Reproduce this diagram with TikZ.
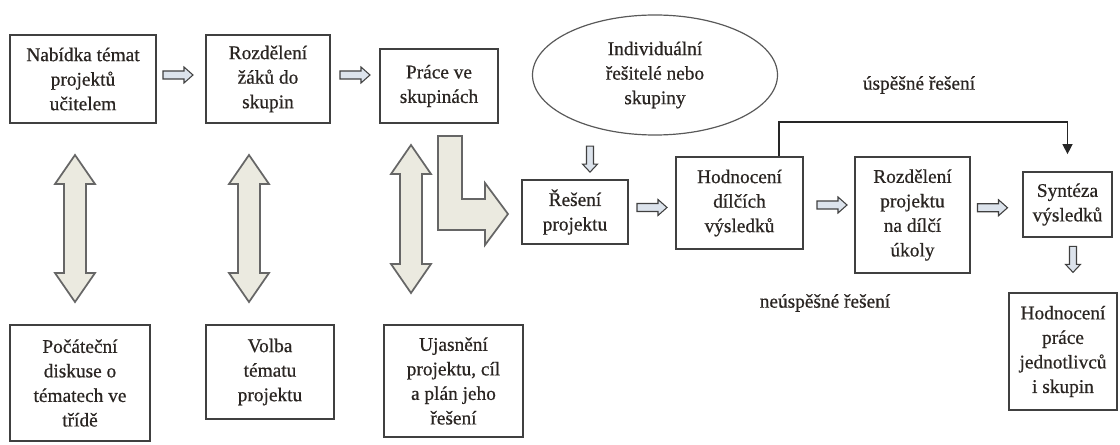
\documentclass[tikz,border=0pt]{standalone}
\usepackage{fontspec}
\setmainfont{Liberation Serif}[FakeBold=0.6]
\usetikzlibrary{calc,arrows.meta,shapes.geometric}
\definecolor{beige}{HTML}{EBEAE0}
\definecolor{arrowblue}{HTML}{DCE3EC}
\definecolor{ink}{HTML}{2A2522}
\tikzset{
  box/.style={draw=black!75, line width=1.3pt, fill=white, inner sep=0pt, align=center, text=ink,
    font=\fontsize{14.5}{18.4}\selectfont},
  oval/.style={ellipse, draw=black!65, line width=0.9pt, inner sep=0pt, align=center, text=ink,
    font=\fontsize{14.5}{18.4}\selectfont},
  lbl/.style={inner sep=0pt, text=ink, font=\fontsize{14.5}{18.4}\selectfont},
  fatarrow/.style={draw=black!60, line width=1.3pt, fill=beige, line join=miter},
  smallarrow/.style={draw=black!75, line width=0.8pt, fill=arrowblue, line join=miter},
  fb/.style={draw=black!85, line width=1pt, -{Triangle[length=7.5pt,width=7.5pt]}}
}
% right-pointing small hollow arrow centred on a named coordinate
\newcommand\rarr[1]{\draw[smallarrow] ($(#1)+(-15,-4)$) -- ++(21,0) -- ++(0,-4) -- ++(9,8) -- ++(-9,8) -- ++(0,-4) -- ++(-21,0) -- cycle;}
% down-pointing small hollow arrow centred on a named coordinate
\newcommand\darr[1]{\draw[smallarrow] ($(#1)+(-3.5,-13)$) -- ++(7,0) -- ++(0,18) -- ++(4,0) -- ++(-7.5,8) -- ++(-7.5,-8) -- ++(4,0) -- cycle;}
% vertical double block arrow between two named coordinates
\newcommand\vdbl[2]{\draw[fatarrow] (#1) -- ($(#1)+(20,29)$) -- ($(#1)+(11,29)$) -- ($(#2)+(11,-29)$) -- ($(#2)+(20,-29)$) -- (#2) -- ($(#2)+(-20,-29)$) -- ($(#2)+(-11,-29)$) -- ($(#1)+(-11,29)$) -- ($(#1)+(-20,29)$) -- cycle;}
\begin{document}
\begin{tikzpicture}[x=0.75pt,y=-0.75pt]
\useasboundingbox (0,0) rectangle (1120,445);

% top row
\node[box, minimum width=109.5pt, minimum height=66pt] (nab) at (83,79) {Nabídka témat\\projektů\\učitelem};
\node[box, minimum width=93pt, minimum height=66pt] (roz) at (268,79) {Rozdělení\\žáků do\\skupin};
\node[box, minimum width=88.5pt, minimum height=55.5pt] (pra) at (439,86) {Práce ve\\skupinách};
\node[oval, minimum width=183.75pt, minimum height=90pt] (ell) at (655,75) {Individuální\\řešitelé nebo\\skupiny};

% middle row
\node[box, minimum width=79.5pt, minimum height=48pt] (res) at (575,212) {Řešení\\projektu};
\node[box, minimum width=95.25pt, minimum height=69pt] (hod) at (739.5,203) {Hodnocení\\dílčích\\výsledků};
\node[box, minimum width=86.25pt, minimum height=87pt] (rozp) at (912.5,215) {Rozdělení\\projektu\\na dílčí\\úkoly};
\node[box, minimum width=66.75pt, minimum height=48.75pt] (syn) at (1067.5,204.5) {Syntéza\\výsledků};
\node[box, minimum width=81pt, minimum height=87.75pt] (hp) at (1063,351.5) {Hodnocení\\práce\\jednotlivců\\i skupin};

% bottom row
\node[box, minimum width=105pt, minimum height=87pt] (poc) at (80,383) {Počáteční\\diskuse o\\tématech ve\\třídě};
\node[box, minimum width=96pt, minimum height=70.5pt] (vol) at (270,372) {Volba\\tématu\\projektu};
\node[box, minimum width=104.25pt, minimum height=84pt] (uja) at (453.5,381) {Ujasnění\\projektu, cíl\\a plán jeho\\řešení};

% labels
\node[lbl] (ok) at (919,85) {úspěšné řešení};
\node[lbl] (nok) at (825,303) {neúspěšné řešení};

% small hollow arrows
\coordinate (m1) at ($(nab.east)!0.5!(roz.west)+(-3,-4)$);
\rarr{m1}
\coordinate (m2) at ($(roz.east)!0.5!(pra.west)+(0,-7.5)$);
\rarr{m2}
\coordinate (m3) at ($(res.east)!0.5!(hod.west)$);
\rarr{m3}
\coordinate (m4) at ($(hod.east)!0.5!(rozp.west)+(3,-4)$);
\rarr{m4}
\coordinate (m5) at ($(rozp.east)!0.5!(syn.west)+(-4,-2)$);
\rarr{m5}
\coordinate (d1) at ($(res.north)+(15,-20)$);
\darr{d1}
\coordinate (d2) at ($(syn.south)+(5.5,21.5)$);
\darr{d2}

% double block arrows
\coordinate (aT) at (75,155);  \coordinate (aB) at (75,302);
\coordinate (bT) at (249,155); \coordinate (bB) at (249,302);
\coordinate (cT) at (411,145); \coordinate (cB) at (411,293);
\vdbl{aT}{aB}
\vdbl{bT}{bB}
\vdbl{cT}{cB}

% L-shaped block arrow
\draw[fatarrow] (438,136) -- (462,136) -- (462,199) -- (485,199) -- (485,183) -- (508,214) -- (485,245) -- (485,230) -- (438,230) -- cycle;

% feedback connector
\coordinate (fbs) at ($(hod.north east)+(-25,0)$);
\draw[fb, shorten >=12.75pt] (fbs) -- ++(0,-34) -| (syn.north);
\end{tikzpicture}
\end{document}
